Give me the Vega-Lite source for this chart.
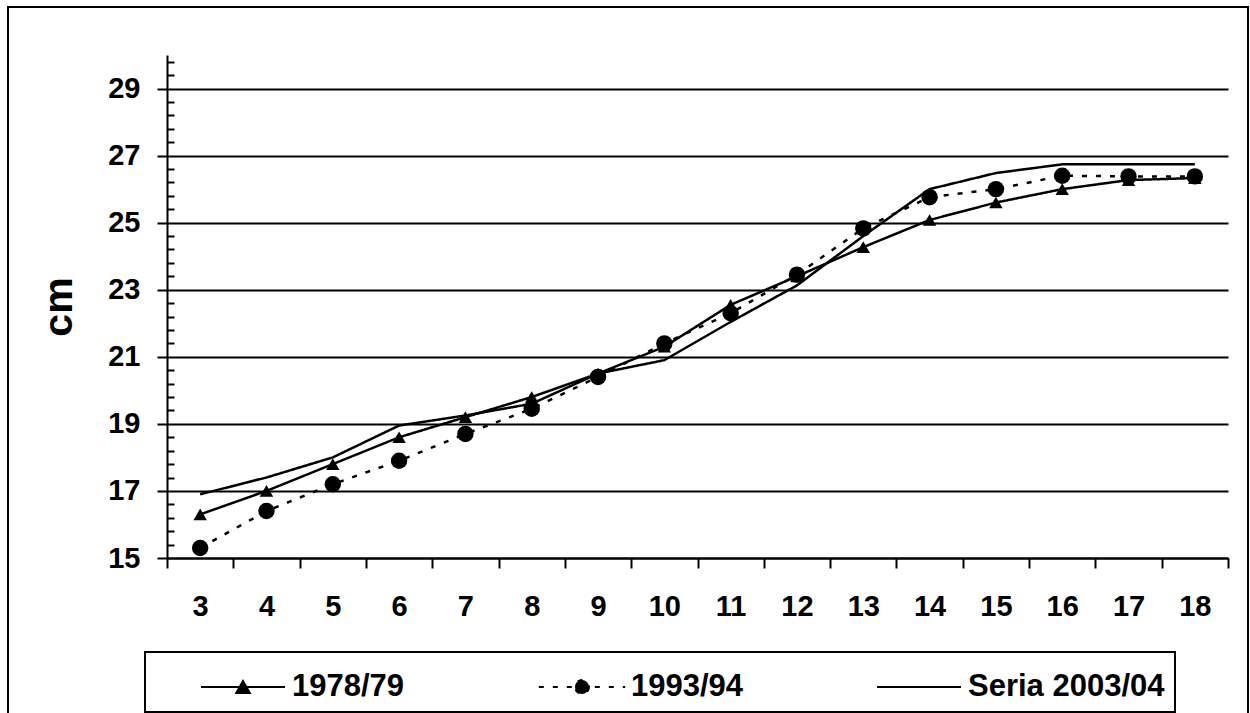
{
  "$schema": "https://vega.github.io/schema/vega-lite/v6.json",
  "width": 1240,
  "height": 720,
  "autosize": {"type": "none"},
  "padding": {"left": 8, "top": 7, "right": 2, "bottom": 0},
  "background": "white",
  "config": {
    "view": {"stroke": "black", "strokeWidth": 2},
    "font": "Liberation Sans",
    "axis": {"labelFont": "Liberation Sans", "labelFontWeight": "bold", "labelColor": "black", "titleColor": "black"}
  },
  "data": {
    "values": [
      {"age": 3, "series": "1978/79", "cm": 16.3},
      {"age": 4, "series": "1978/79", "cm": 17.0},
      {"age": 5, "series": "1978/79", "cm": 17.8},
      {"age": 6, "series": "1978/79", "cm": 18.6},
      {"age": 7, "series": "1978/79", "cm": 19.2},
      {"age": 8, "series": "1978/79", "cm": 19.8},
      {"age": 9, "series": "1978/79", "cm": 20.5},
      {"age": 10, "series": "1978/79", "cm": 21.3},
      {"age": 11, "series": "1978/79", "cm": 22.55},
      {"age": 12, "series": "1978/79", "cm": 23.4},
      {"age": 13, "series": "1978/79", "cm": 24.27},
      {"age": 14, "series": "1978/79", "cm": 25.08},
      {"age": 15, "series": "1978/79", "cm": 25.6},
      {"age": 16, "series": "1978/79", "cm": 26.0},
      {"age": 17, "series": "1978/79", "cm": 26.27},
      {"age": 18, "series": "1978/79", "cm": 26.33},
      {"age": 3, "series": "1993/94", "cm": 15.3},
      {"age": 4, "series": "1993/94", "cm": 16.4},
      {"age": 5, "series": "1993/94", "cm": 17.2},
      {"age": 6, "series": "1993/94", "cm": 17.9},
      {"age": 7, "series": "1993/94", "cm": 18.7},
      {"age": 8, "series": "1993/94", "cm": 19.45},
      {"age": 9, "series": "1993/94", "cm": 20.4},
      {"age": 10, "series": "1993/94", "cm": 21.4},
      {"age": 11, "series": "1993/94", "cm": 22.3},
      {"age": 12, "series": "1993/94", "cm": 23.45},
      {"age": 13, "series": "1993/94", "cm": 24.83},
      {"age": 14, "series": "1993/94", "cm": 25.76},
      {"age": 15, "series": "1993/94", "cm": 26.0},
      {"age": 16, "series": "1993/94", "cm": 26.4},
      {"age": 17, "series": "1993/94", "cm": 26.38},
      {"age": 18, "series": "1993/94", "cm": 26.38},
      {"age": 3, "series": "Seria 2003/04", "cm": 16.9},
      {"age": 4, "series": "Seria 2003/04", "cm": 17.4},
      {"age": 5, "series": "Seria 2003/04", "cm": 18.0},
      {"age": 6, "series": "Seria 2003/04", "cm": 18.95},
      {"age": 7, "series": "Seria 2003/04", "cm": 19.25},
      {"age": 8, "series": "Seria 2003/04", "cm": 19.6},
      {"age": 9, "series": "Seria 2003/04", "cm": 20.5},
      {"age": 10, "series": "Seria 2003/04", "cm": 20.9},
      {"age": 11, "series": "Seria 2003/04", "cm": 22.04},
      {"age": 12, "series": "Seria 2003/04", "cm": 23.13},
      {"age": 13, "series": "Seria 2003/04", "cm": 24.6},
      {"age": 14, "series": "Seria 2003/04", "cm": 26.0},
      {"age": 15, "series": "Seria 2003/04", "cm": 26.48},
      {"age": 16, "series": "Seria 2003/04", "cm": 26.74},
      {"age": 17, "series": "Seria 2003/04", "cm": 26.74},
      {"age": 18, "series": "Seria 2003/04", "cm": 26.74}
    ]
  },
  "encoding": {
    "x": {
      "field": "age",
      "type": "ordinal",
      "scale": {"type": "band", "paddingInner": 0, "paddingOuter": 0, "range": [159, 1220]},
      "axis": {
        "title": null,
        "offset": -169,
        "labelAngle": 0,
        "labelFontSize": 29,
        "labelPadding": 24,
        "tickBand": "extent",
        "tickSize": 10,
        "tickWidth": 2,
        "tickColor": "black",
        "domainColor": "black",
        "domainWidth": 2,
        "grid": false
      }
    }
  },
  "resolve": {"axis": {"y": "independent"}},
  "layer": [
    {
      "mark": {"type": "line", "color": "black", "strokeWidth": 2.5},
      "encoding": {
        "y": {
          "field": "cm",
          "type": "quantitative",
          "scale": {"domain": [15, 30], "nice": false, "zero": false, "range": [551, 48]},
          "axis": {
            "orient": "left",
            "offset": -159,
            "title": "cm",
            "titleFontSize": 41,
            "titleFontWeight": "bold",
            "titlePadding": 27,
            "values": [15, 17, 19, 21, 23, 25, 27, 29],
            "labelFontSize": 29,
            "labelPadding": 17,
            "tickSize": 10,
            "tickWidth": 2,
            "tickColor": "black",
            "domainColor": "black",
            "domainWidth": 2,
            "grid": true,
            "gridColor": "black",
            "gridWidth": 2,
            "gridOpacity": 1
          }
        },
        "strokeDash": {
          "field": "series",
          "type": "nominal",
          "scale": {"domain": ["1978/79", "1993/94", "Seria 2003/04"], "range": [[1, 0], [5, 9], [1, 0]]},
          "legend": {
            "title": " ",
            "titleOrient": "left",
            "titleFontSize": 10,
            "titlePadding": 63,
            "orient": "none",
            "legendX": 137,
            "legendY": 645,
            "direction": "horizontal",
            "columns": 3,
            "columnPadding": 129,
            "padding": 10,
            "strokeColor": "black",
            "symbolSize": 2304,
            "symbolStrokeWidth": 2,
            "symbolStrokeColor": "black",
            "symbolFillColor": "black",
            "labelOffset": 24,
            "labelFont": "Liberation Sans",
            "labelFontWeight": "bold",
            "labelFontSize": 31,
            "labelColor": "black",
            "labelLimit": 0,
            "labelExpr": "datum.label == 'Seria 2003/04' ? datum.label + '\u00a0\u00a0\u00a0\u00a0\u00a0\u00a0' : datum.label",
            "encode": {
              "legend": {"update": {"strokeWidth": {"value": 2}}},
              "symbols": {
                "update": {
                  "shape": {"signal": "datum.value == '1978/79' ? 'M-1.75,0H1.75M0,-0.25L0.28,0.25L-0.28,0.25Z' : datum.value == '1993/94' ? 'M-1.8,0H1.8M0.29,0A0.29,0.29,0,1,1,-0.29,0A0.29,0.29,0,1,1,0.29,0Z' : 'M-1.75,0H1.75'"},
                  "fill": {"value": "black"},
                  "stroke": {"value": "black"},
                  "strokeWidth": {"value": 2}
                }
              }
            }
          }
        }
      }
    },
    {
      "transform": [{"filter": "datum.series != 'Seria 2003/04'"}],
      "mark": {"type": "point", "filled": true, "color": "black", "opacity": 1},
      "encoding": {
        "y": {
          "field": "cm",
          "type": "quantitative",
          "axis": {
            "orient": "left",
            "offset": -166,
            "title": null,
            "labels": false,
            "domain": false,
            "grid": false,
            "tickSize": 7,
            "tickWidth": 2,
            "tickColor": "black",
            "values": [15.4, 15.8, 16.2, 16.6, 17.4, 17.8, 18.2, 18.6, 19.4, 19.8, 20.2, 20.6, 21.4, 21.8, 22.2, 22.6, 23.4, 23.8, 24.2, 24.6, 25.4, 25.8, 26.2, 26.6, 27.4, 27.8, 28.2, 28.6, 29.4, 29.8]
          }
        },
        "shape": {
          "field": "series",
          "type": "nominal",
          "scale": {"domain": ["1978/79", "1993/94"], "range": ["triangle-up", "circle"]},
          "legend": null
        },
        "size": {
          "field": "series",
          "type": "nominal",
          "scale": {"domain": ["1978/79", "1993/94"], "range": [180, 270]},
          "legend": null
        }
      }
    }
  ]
}
